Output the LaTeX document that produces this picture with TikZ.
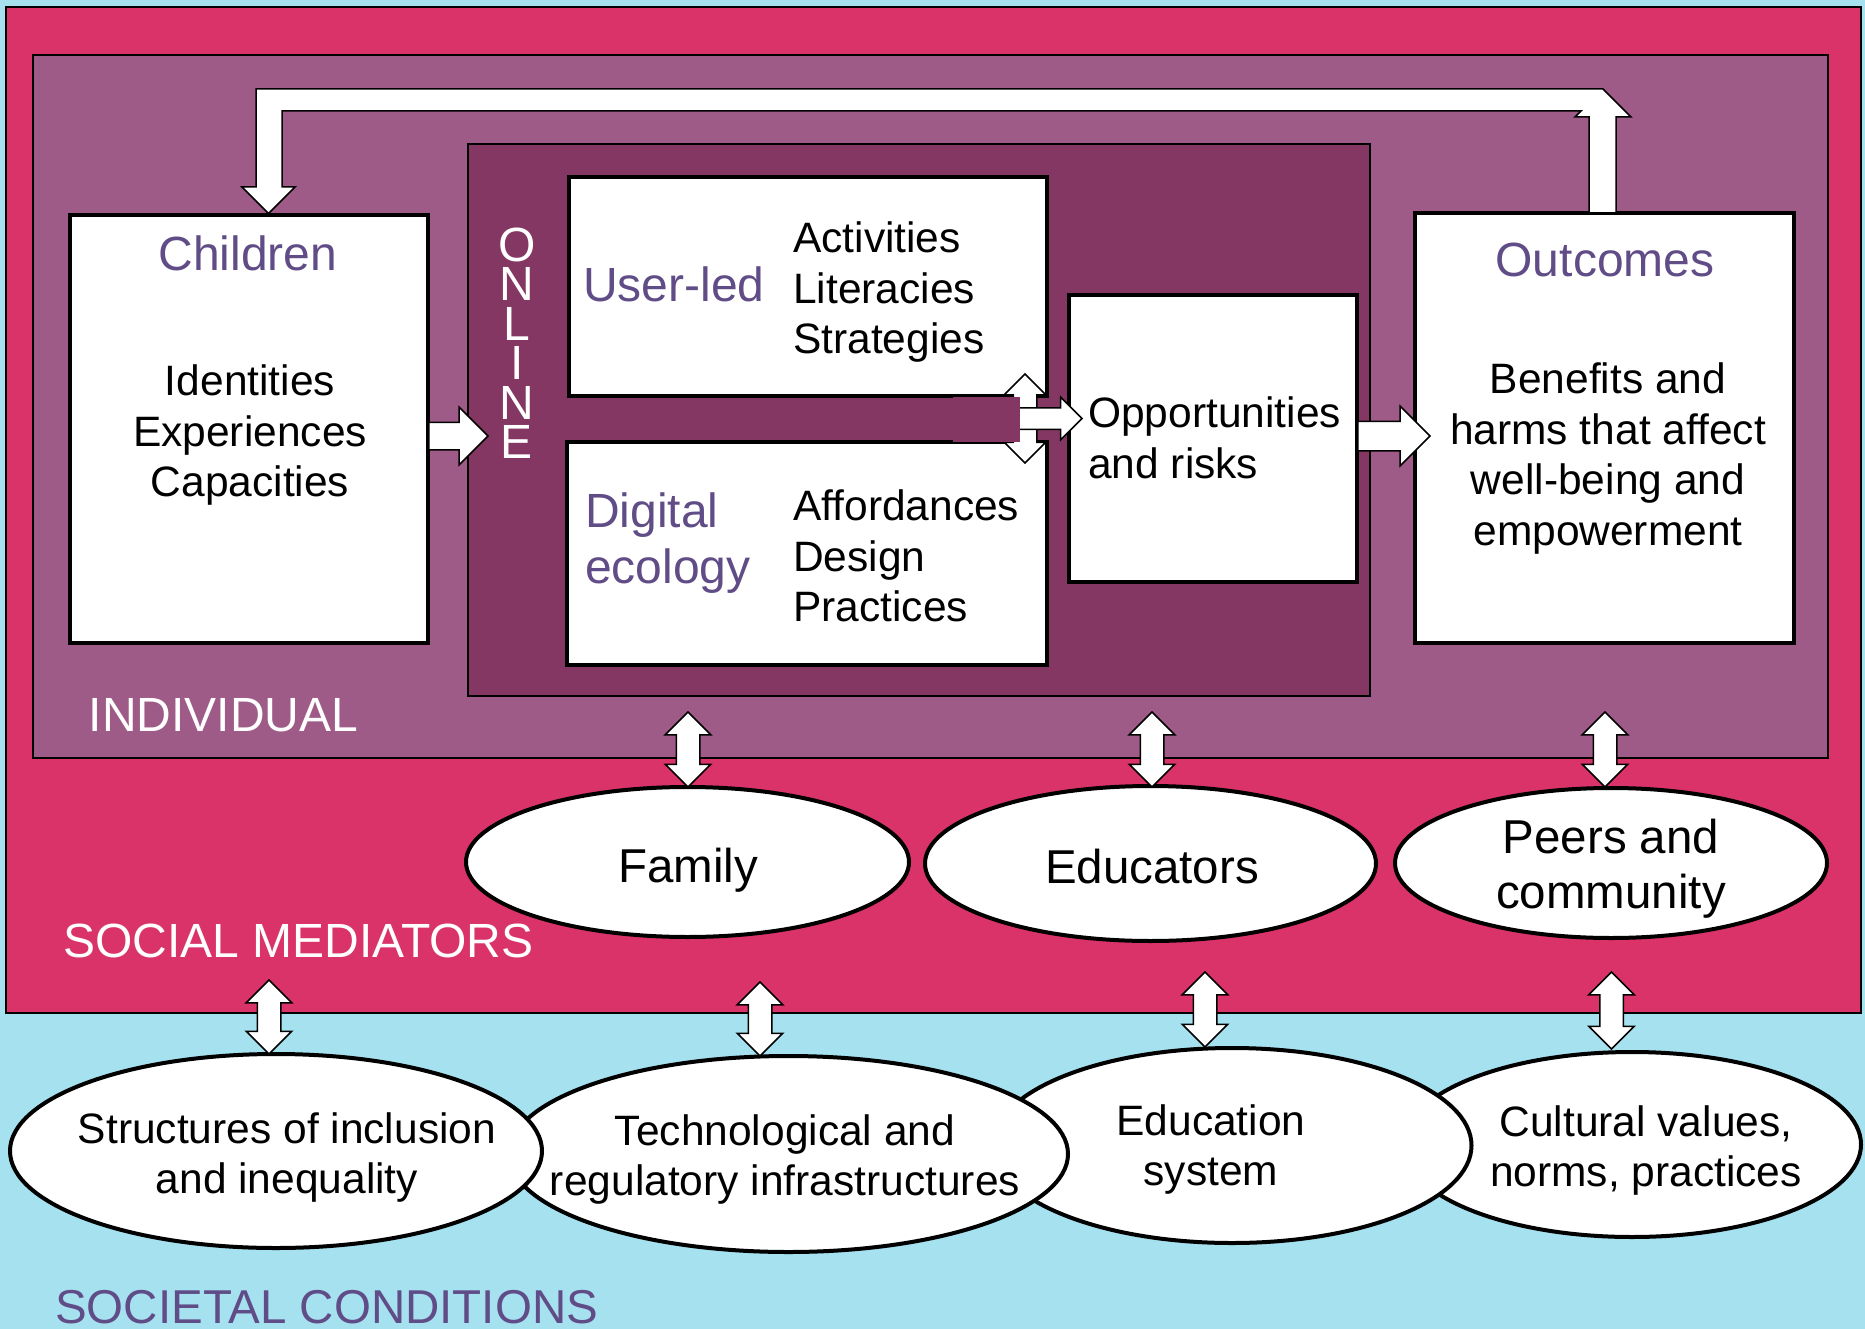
\documentclass[tikz,border=0pt]{standalone}
\usepackage{fontspec}
\setmainfont{Liberation Sans}
\usetikzlibrary{shapes.geometric,shapes.arrows}

\definecolor{sky}{RGB}{166,225,240}
\definecolor{mediatorpink}{RGB}{217,51,106}
\definecolor{individualmauve}{RGB}{158,91,135}
\definecolor{onlineplum}{RGB}{132,55,98}
\definecolor{headpurple}{RGB}{96,76,134}

\tikzset{
  level/.style={draw, line width=1.5pt, inner sep=0pt},
  whitebox/.style={draw, fill=white, line width=4pt, inner sep=0pt},
  mediator/.style={ellipse, draw, fill=white, line width=4pt, inner sep=0pt},
  fatarrow/.style={single arrow, draw, fill=white, line width=1.5pt, inner xsep=0pt, single arrow head extend=#1, anchor=tip},
  twoway/.style={double arrow, draw, fill=white, line width=1.5pt, inner xsep=0pt, inner ysep=11pt, double arrow head extend=11pt, rotate=90},
  headtxt/.style={inner sep=0pt, text=headpurple, font=\fontsize{48}{56}\selectfont},
  bodytxt/.style={inner sep=0pt, font=\fontsize{42.5}{50.5}\selectfont},
  mediatortxt/.style={inner sep=0pt, font=\fontsize{47.5}{55}\selectfont},
  leveltxt/.style={inner sep=0pt, text=white, font=\fontsize{48}{56}\selectfont},
}

\begin{document}
\begin{tikzpicture}[x=1pt, y=1pt]
\useasboundingbox (0,0) rectangle (1865,-1329);
\fill[sky] (0,0) rectangle (1865,-1329);

% levels
\node[level, fill=mediatorpink, minimum width=1855pt, minimum height=1006pt] (mediators) at (933.5,-510) {};
\node[level, fill=individualmauve, minimum width=1795pt, minimum height=703pt] (individual) at (930.5,-406.5) {};
\node[level, fill=onlineplum, minimum width=902pt, minimum height=552pt] (online) at (919,-420) {};

% boxes
\node[whitebox, minimum width=358pt, minimum height=428pt] (children) at (249,-429) {};
\node[whitebox, minimum width=478pt, minimum height=219pt] (userled) at (808,-286.5) {};
\node[whitebox, minimum width=480pt, minimum height=223pt] (digital) at (807,-553.5) {};
\node[whitebox, minimum width=288pt, minimum height=287pt] (opps) at (1213,-438.5) {};
\node[whitebox, minimum width=379pt, minimum height=430pt] (outcomes) at (1604.5,-428) {};

% junction between the two online boxes
\node[twoway, double arrow head extend=9pt, minimum height=89pt] (junctionupdown) at (1025,-418.5) {};
\node[fatarrow=10.5pt, inner ysep=10pt, minimum height=65pt] (junctionright) at (1083,-418.5) {};
\fill[onlineplum] (953,-397) rectangle (1019.5,-442);

\node[fatarrow=15pt, inner ysep=13pt, minimum height=59pt] (childrenonline) at (489,-436) {};
\node[fatarrow=15pt, inner ysep=14pt, minimum height=72pt] (oppsoutcomes) at (1431,-436) {};

% feedback loop
\draw[fill=white, line width=1.5pt, line join=miter] (1589,-213) -- (1589,-117) -- (1575,-117) -- (1581,-111)
  -- (282,-111) -- (282,-187) -- (295,-187) -- (268.5,-213.5) -- (242,-187) -- (256,-187)
  -- (256,-89) -- (1603,-89) -- (1631,-117) -- (1616,-117) -- (1616,-213) -- cycle;

% mediators
\node[mediator, minimum width=443pt, minimum height=150pt] (family) at (687.5,-862) {};
\node[mediator, minimum width=451pt, minimum height=155pt] (educators) at (1150.5,-863.5) {};
\node[mediator, minimum width=432pt, minimum height=150pt] (peers) at (1611,-863) {};

% societal conditions
\node[mediator, minimum width=458pt, minimum height=185pt] (cultural) at (1632,-1144.5) {};
\node[mediator, minimum width=479pt, minimum height=195pt] (edusystem) at (1232,-1145.5) {};
\node[mediator, minimum width=559pt, minimum height=196pt] (techinfra) at (788.5,-1154) {};
\node[mediator, minimum width=532pt, minimum height=194pt] (structures) at (276,-1151) {};

\foreach \x/\name in {688/family, 1152/educators, 1605/peers}
  \node[twoway, minimum height=75pt] (link\name) at (\x,-749.5) {};
\foreach \x/\y/\len/\name in {269/1017/74pt/structures, 760/1019/74pt/techinfra, 1205/1009.5/75pt/edusystem, 1611.5/1010.5/77pt/cultural}
  \node[twoway, minimum height=\len] (link\name) at (\x,-\y) {};

% texts
\node[headtxt, anchor=base] (childrenhead) at (248,-271) {Children};
\node[bodytxt, anchor=north, align=center] (childrenbody) at (250,-365) {Identities\\Experiences\\Capacities};
\node[headtxt, anchor=base west] (userledhead) at (583,-302) {User-led};
\node[bodytxt, anchor=north west, align=left] (userledbody) at (793,-222) {Activities\\Literacies\\Strategies};
\node[headtxt, anchor=north west, align=left] (digitalhead) at (585,-493) {Digital\\ecology};
\node[bodytxt, anchor=north west, align=left] (digitalbody) at (793,-490) {Affordances\\Design\\Practices};
\node[bodytxt, anchor=north west, align=left] (oppstxt) at (1088,-397) {Opportunities\\and risks};
\node[headtxt, anchor=base] (outcomeshead) at (1605,-277) {Outcomes};
\node[bodytxt, anchor=north, align=center] (outcomesbody) at (1608,-363) {Benefits and\\harms that affect\\well-being and\\empowerment};
\node[leveltxt, font=\fontsize{48}{39.5}\selectfont, anchor=north, align=center] (onlinelabel) at (517,-227.5) {O\\N\\L\\I\\N\\E};

\node[leveltxt, anchor=base west] (individuallabel) at (88.5,-731) {INDIVIDUAL};
\node[leveltxt, anchor=base west] (mediatorslabel) at (63,-957) {SOCIAL MEDIATORS};
\node[headtxt, font=\fontsize{47.5}{55}\selectfont, anchor=base west] (societallabel) at (55,-1323) {SOCIETAL CONDITIONS};

\node[mediatortxt, anchor=base] (familytxt) at (688,-882) {Family};
\node[mediatortxt, anchor=base] (educatorstxt) at (1152,-883) {Educators};
\node[mediatortxt, anchor=north, align=center] (peerstxt) at (1611,-819) {Peers and\\community};

\node[bodytxt, anchor=north, align=center] (structurestxt) at (287,-1112) {Structures of inclusion\\and inequality};
\node[bodytxt, anchor=north, align=center] (techinfratxt) at (785,-1114) {Technological and\\regulatory infrastructures};
\node[bodytxt, anchor=north, align=center] (edusystemtxt) at (1211,-1104) {Education\\system};
\node[bodytxt, anchor=north, align=center] (culturaltxt) at (1646,-1105) {Cultural values,\\norms, practices};
\end{tikzpicture}
\end{document}
